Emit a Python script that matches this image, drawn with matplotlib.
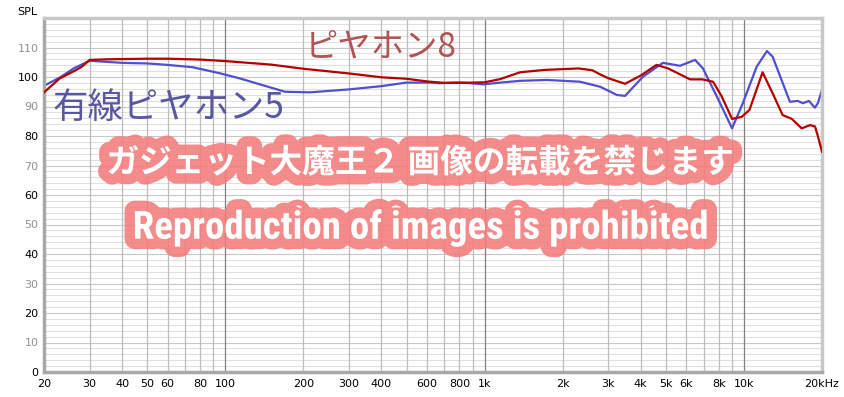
import numpy as np
import matplotlib
matplotlib.use("Agg")
import matplotlib.pyplot as plt
import matplotlib.patheffects as pe
from matplotlib.ticker import FixedLocator, NullFormatter

# frequency response (Hz, dB SPL)
freq_red = [20, 23, 26.5, 28, 30, 35, 50, 60, 80, 100, 150, 200, 300, 400, 500, 600,
            700, 800, 1000, 1150, 1370, 1700, 2300, 2600, 2800, 3000, 3240, 3480, 4000,
            4600, 5100, 6200, 6900, 7600, 8200, 9000, 9800, 10500, 11800, 12900, 14100,
            15300, 16700, 18000, 18800, 19300, 20000]
spl_red = [94.8, 99.5, 102.3, 103.5, 105.8, 106.0, 106.2, 106.2, 105.9, 105.4, 104.2,
           102.8, 101.2, 99.9, 99.4, 98.5, 98.0, 98.0, 98.2, 99.3, 101.6, 102.4, 102.9,
           102.3, 100.8, 99.6, 98.6, 97.7, 100.5, 104.1, 102.9, 99.2, 99.2, 98.4, 93.5,
           85.8, 86.5, 88.8, 101.6, 94.5, 87.1, 85.8, 82.6, 83.7, 83.2, 79.8, 74.7]

freq_blue = [20, 21.2, 23.1, 26, 30, 40, 50, 60, 75, 96, 114, 170, 212, 300, 400, 500,
             620, 670, 800, 990, 1150, 1370, 1740, 2330, 2790, 3240, 3480, 4080, 4870,
             5670, 6480, 6950, 7870, 9000, 9900, 11200, 12270, 12900, 15040, 16140,
             16880, 17800, 18770, 19280, 20000]
spl_blue = [97.0, 98.2, 99.9, 102.9, 105.5, 104.8, 104.6, 104.1, 103.3, 101.2, 99.5,
            95.0, 94.8, 95.8, 96.9, 98.1, 98.1, 97.9, 98.2, 97.5, 98.1, 98.7, 99.0, 98.4,
            96.7, 93.9, 93.6, 100.1, 104.8, 103.8, 105.8, 102.9, 93.3, 82.6, 91.1, 103.5,
            108.8, 106.9, 91.6, 91.9, 91.1, 91.9, 89.6, 91.1, 95.6]

xtick_vals = [20, 30, 40, 50, 60, 80, 100, 200, 300, 400, 600, 800, 1000, 2000, 3000,
              4000, 5000, 6000, 8000, 10000, 20000]
xtick_labels = ["20", "30", "40", "50", "60", "80", "100", "200", "300", "400", "600",
                "800", "1k", "2k", "3k", "4k", "5k", "6k", "8k", "10k", "20kHz"]
ytick_vals = list(range(0, 120, 10))

jp = ["Noto Sans CJK JP", "DejaVu Sans"]

fig = plt.figure(figsize=(8.44, 3.97), dpi=100)
ax = fig.add_axes([44 / 844, 25 / 397, 778 / 844, 354 / 397])
ax.set_xscale("log")
ax.set_xlim(20, 20000)
ax.set_ylim(0, 120)

# grid: fine 2 dB rows, 10 dB rows, and log columns
for v in range(2, 120, 2):
    ax.axhline(v, color="#c8c8c8" if v % 10 == 0 else "#e0e0e0", lw=0.8, zorder=0)
cols = [d * m for d in (10, 100, 1000, 10000) for m in range(1, 10)]
for c in cols:
    if 20 < c < 20000:
        dark = c in (100, 1000, 10000)
        ax.axvline(c, color="#808080" if dark else "#bcbcbc", lw=0.9, zorder=0)

ax.plot(freq_red, spl_red, color="#b40000", lw=1.6, zorder=3)
ax.plot(freq_blue, spl_blue, color="#4f4fd0", lw=1.6, zorder=2)

ax.xaxis.set_major_locator(FixedLocator(xtick_vals))
ax.set_xticklabels(xtick_labels)
ax.xaxis.set_minor_formatter(NullFormatter())
ax.tick_params(axis="x", which="both", length=0, labelsize=8, pad=5)
ax.set_yticks(ytick_vals)
ax.set_yticklabels([str(v) for v in ytick_vals])
ax.tick_params(axis="y", length=0, labelsize=8, pad=4)
for v, lab in zip(ytick_vals, ax.get_yticklabels()):
    lab.set_color("#909090" if v % 20 else "black")

for s in ax.spines.values():
    s.set_color("#c8c8c8")
    s.set_linewidth(2.5)
ax.spines["left"].set_color("#a8a8a8")
ax.spines["bottom"].set_color("#a8a8a8")

fig.text(17 / 844, 1 - 12 / 397, "SPL", fontsize=8, va="center", ha="left")

ax.text(0.433, 0.918, "ピヤホン8", transform=ax.transAxes, family=jp, fontsize=24,
        color="#b05454", ha="center", va="center", zorder=4)
ax.text(0.011, 0.745, "有線ピヤホン5", transform=ax.transAxes, family=jp, fontsize=25.5,
        color="#5858a2", ha="left", va="center", zorder=4)

blob = [pe.withStroke(linewidth=15, foreground="#f47c7c", alpha=0.88)]
fig.text(420 / 844, 1 - 163 / 397, "ガジェット大魔王２ 画像の転載を禁じます", family=jp,
         fontsize=23.5, fontweight="bold", color="white", ha="center", va="center",
         path_effects=blob, zorder=5)
fig.text(421 / 844, 1 - 228 / 397, "Reproduction of images is prohibited",
         family=["Liberation Sans Narrow", "Roboto Condensed", "DejaVu Sans"],
         fontsize=28, fontweight="bold", color="white", ha="center", va="center",
         path_effects=blob, zorder=5)

fig.savefig("out.png", dpi=100)
